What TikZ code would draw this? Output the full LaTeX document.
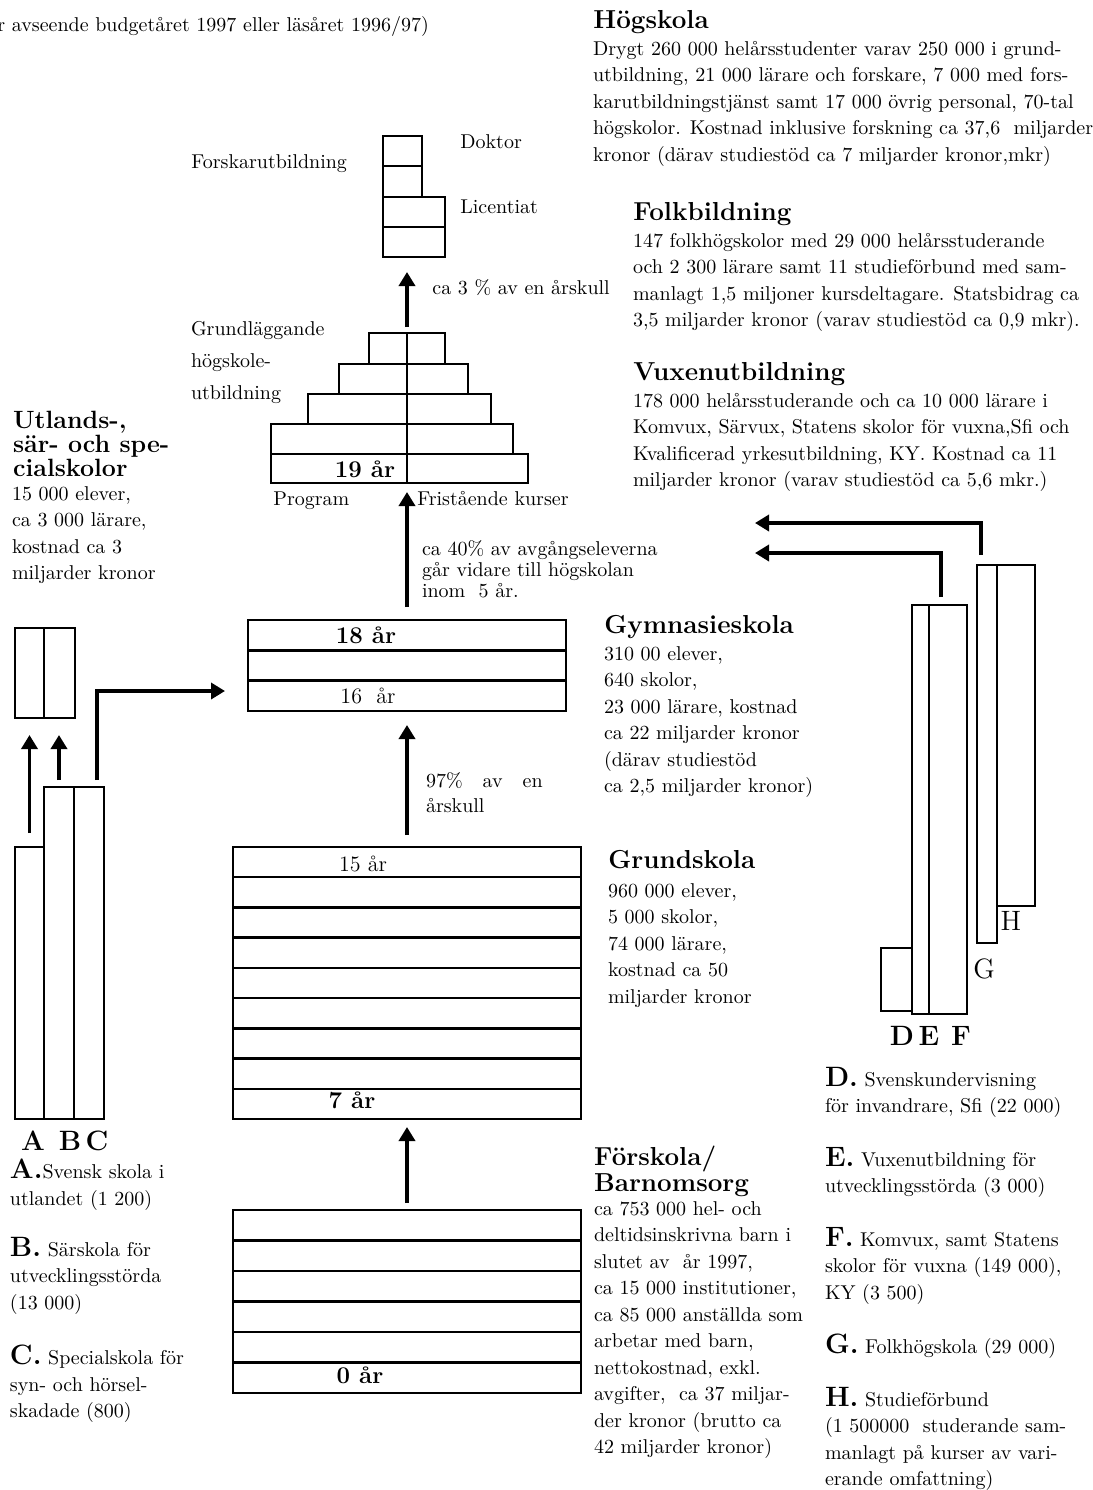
\documentclass[tikz,border=0pt]{standalone}
\usepackage{fontspec}
\usetikzlibrary{arrows.meta,calc,fit}
\newcommand\fstrut{\rule{0pt}{9pt}}
\newcommand\hstrut{\rule{0pt}{10pt}}
\newcommand\tb[4]{\node[blk] (#1) at (#2,{#3-18}) {\fstrut#4};}
\newcommand\lt[1]{{\fontsize{14}{13.25}\selectfont\bfseries #1}}
\begin{document}
\begin{tikzpicture}[x=0.5pt,y=-0.5pt,
  bx/.style={draw, line width=1.2pt, inner sep=0pt, outer sep=0pt},
  rowline/.style={line width=1.2pt},
  arr/.style={line width=1.8pt, -{Triangle[length=7pt,width=8pt]}},
  blk/.style={anchor=north west, inner sep=0pt, outer sep=0pt, align=left, font=\fontsize{10}{13.25}\selectfont},
  hd/.style={anchor=base west, inner sep=0pt, font=\fontsize{13}{13}\selectfont\bfseries},
  lbl/.style={anchor=base west, inner sep=0pt, font=\fontsize{10}{12}\selectfont},
  age/.style={anchor=base, inner sep=0pt, font=\fontsize{11}{12}\selectfont},
  agebf/.style={anchor=base, inner sep=0pt, font=\fontsize{12}{12}\selectfont\bfseries},
  big/.style={anchor=base, inner sep=0pt, font=\fontsize{14}{14}\selectfont\bfseries},
  bigr/.style={anchor=base, inner sep=0pt, font=\fontsize{14}{14}\selectfont}]
\useasboundingbox (0,0) rectangle (1093,1490);

% top note
\node[lbl] (note) at (-3,31) {r avseende budgetåret 1997 eller läsåret 1996/97)};

% ---------- Forskarutbildning ----------
\node[bx, fit={(383,136) (422,166)}] (fa) {};
\node[bx, fit={(383,166) (422,197)}] (fb) {};
\node[bx, fit={(383,197) (445,227)}] (fc) {};
\node[bx, fit={(383,227) (445,257)}] (fd) {};
\node[lbl] (forsk) at (191,168) {Forskarutbildning};
\node[lbl] (doktor) at (460,148) {Doktor};
\node[lbl] (lic) at (460,213) {Licentiat};

% ---------- Pyramid ----------
\node[bx, fit={(369,333) (445,364)}] (p1) {};
\node[bx, fit={(339,364) (468,394)}] (p2) {};
\node[bx, fit={(308,394) (491,424)}] (p3) {};
\node[bx, fit={(271,424) (513,454)}] (p4) {};
\node[bx, fit={(271,454) (528,483)}] (p5) {};
\draw[rowline] (p1.north) -- (p1.north |- p5.south);
\node[agebf] (y19) at (365,477) {19 år};
\node[lbl] (prog) at (273,505) {Program};
\node[lbl] (frist) at (417,505) {Fristående kurser};
\node[blk, font=\fontsize{10}{16}\selectfont] (grl) at (191,317) {\fstrut Grundläggande\\högskole-\\utbildning};
\draw[arr, shorten <=3pt, shorten >=7.5pt] (p1.north) -- (p1.north |- fd.south);
\node[lbl] (tre) at (432,294) {ca 3 \% av en årskull};

% ---------- Gymnasieskola ----------
\node[bx, fit={(248,620) (566,711)}] (gym) {};
\foreach \i in {1,2}
  \draw[rowline] ($(gym.north west)!\i/3!(gym.south west)$) -- ($(gym.north east)!\i/3!(gym.south east)$);
\node[agebf] (y18) at (366,643) {18 år};
\node[age] (y16) at (368,703) {16\ \ år};
\draw[arr, shorten <=6.5pt, shorten >=4.5pt] (gym.north) -- (gym.north |- p5.south);
\node[blk, font=\fontsize{10}{10.5}\selectfont] (fyrtio) at (422,537) {\fstrut ca 40\% av avgångseleverna\\går vidare till högskolan\\inom\ \ 5 år.};
\node[hd] (gymh) at (604,633) {Gymnasieskola};
\tb{gymt}{604}{660}{310 00 elever,\\640 skolor,\\23 000 lärare, kostnad\\ca 22 miljarder kronor\\(därav studiestöd\\ca 2,5 miljarder kronor)}

% ---------- Grundskola ----------
\node[bx, fit={(233,847) (581,1119)}] (grund) {};
\foreach \i in {1,...,8}
  \draw[rowline] ($(grund.north west)!\i/9!(grund.south west)$) -- ($(grund.north east)!\i/9!(grund.south east)$);
\node[age] (y15) at (363,871) {15 år};
\node[agebf] (y7) at (352,1108) {7 år};
\draw[arr, shorten <=6pt, shorten >=7pt] (grund.north) -- (gym.south);
\node[blk, font=\fontsize{10}{12.5}\selectfont] (nittiosju) at (426,769) {\fstrut 97\%\ \ \ av\ \ \ en\\årskull};
\node[hd] (grundh) at (608,868) {Grundskola};
\tb{grundt}{608}{897}{960 000 elever,\\5 000 skolor,\\74 000 lärare,\\kostnad ca 50\\miljarder kronor}

% ---------- Förskola ----------
\node[bx, fit={(233,1210) (581,1393)}] (fors) {};
\foreach \i in {1,...,5}
  \draw[rowline] ($(fors.north west)!\i/6!(fors.south west)$) -- ($(fors.north east)!\i/6!(fors.south east)$);
\node[agebf] (y0) at (360,1383) {0 år};
\draw[arr, shorten <=3.5pt, shorten >=4pt] (fors.north) -- (grund.south);
\node[blk, font=\fontsize{13}{11.5}\selectfont\bfseries] (forsh) at (594,1145) {\hstrut Förskola/\\Barnomsorg};
\tb{forst}{594}{1215}{ca 753 000 hel- och\\deltidsinskrivna barn i\\slutet av\ \ år 1997,\\ca 15 000 institutioner,\\ca 85 000 anställda som\\arbetar med barn,\\nettokostnad, exkl.\\avgifter,\ \ ca 37 miljar-\\der kronor (brutto ca\\42 miljarder kronor)}

% ---------- Högskola / Folkbildning / Vuxenutbildning ----------
\node[hd] (hogh) at (593,28) {Högskola};
\tb{hogt}{593}{55}{Drygt 260 000 helårsstudenter varav 250 000 i grund-\\utbildning, 21 000 lärare och forskare, 7 000 med fors-\\karutbildningstjänst samt 17 000 övrig personal, 70-tal\\högskolor. Kostnad inklusive forskning ca 37,6\ \ miljarder\\kronor (därav studiestöd ca 7 miljarder kronor,mkr)}
\node[hd] (folkh) at (633,220) {Folkbildning};
\tb{folkt}{633}{247}{147 folkhögskolor med 29 000 helårsstuderande\\och 2 300 lärare samt 11 studieförbund med sam-\\manlagt 1,5 miljoner kursdeltagare. Statsbidrag ca\\3,5 miljarder kronor (varav studiestöd ca 0,9 mkr).}
\node[hd] (vuxh) at (633,380) {Vuxenutbildning};
\tb{vuxt}{633}{407}{178 000 helårsstuderande och ca 10 000 lärare i\\Komvux, Särvux, Statens skolor för vuxna,Sfi och\\Kvalificerad yrkesutbildning, KY. Kostnad ca 11\\miljarder kronor (varav studiestöd ca 5,6 mkr.)}

% ---------- Left: Utlands-, sär- och specialskolor ----------
\node[blk, font=\fontsize{12.5}{10.5}\selectfont\bfseries] (utlh) at (13,408) {\hstrut Utlands-,\\sär- och spe-\\cialskolor};
\tb{utlt}{12}{500}{15 000 elever,\\ca 3 000 lärare,\\kostnad ca 3\\miljarder kronor}
\node[bx, fit={(15,628) (44,718)}] (sa) {};
\node[bx, fit={(44,628) (75,718)}] (sb) {};
\node[bx, fit={(15,847) (44,1119)}] (A) {};
\node[bx, fit={(44,787) (74,1119)}] (B) {};
\node[bx, fit={(74,787) (104,1119)}] (C) {};
\draw[arr, shorten <=7pt, shorten >=8.5pt] (A.north) -- (A.north |- sa.south);
\draw[arr, shorten <=3.5pt, shorten >=8.5pt] (B.north) -- (B.north |- sb.south);
\coordinate (cend) at (225,691);
\draw[arr] ([xshift=4pt,yshift=3.5pt]C.north) |- (cend);
\node[big] (la) at (33,1150) {A};
\node[big] (lb) at (70,1150) {B};
\node[big] (lc) at (97,1150) {C};
\tb{legA}{10}{1177}{\lt{A.}Svensk skola i\\utlandet (1 200)}
\tb{legB}{10}{1255}{\lt{B.} Särskola för\\utvecklingsstörda\\(13 000)}
\tb{legC}{10}{1363}{\lt{C.} Specialskola för\\syn- och hörsel-\\skadade (800)}

% ---------- Right: adult education bars ----------
\node[bx, fit={(881,948) (912,1011)}] (D) {};
\node[bx, fit={(912,605) (929,1014)}] (E) {};
\node[bx, fit={(929,605) (967,1014)}] (F) {};
\node[bx, fit={(977,565) (997,943)}] (G) {};
\node[bx, fit={(997,565) (1035,906)}] (H) {};
\coordinate (vu) at (755,523);
\coordinate (vl) at (755,553);
\draw[arr] ([xshift=-3pt,yshift=5pt]G.north) |- (vu);
\draw[arr] ([xshift=-3.5pt,yshift=4pt]F.north) |- (vl);
\node[big] (ld) at (902,1045) {D};
\node[big] (le) at (929,1045) {E};
\node[big] (lf) at (961,1045) {F};
\node[bigr] (lg) at (984,978) {G};
\node[bigr] (lh) at (1011,930) {H};
\tb{legD}{825}{1085}{\lt{D.} Svenskundervisning\\för invandrare, Sfi (22 000)}
\tb{legE}{825}{1165}{\lt{E.} Vuxenutbildning för\\utvecklingsstörda (3 000)}
\tb{legF}{825}{1245}{\lt{F.} Komvux, samt Statens\\skolor för vuxna (149 000),\\KY (3 500)}
\tb{legG}{825}{1352}{\lt{G.} Folkhögskola (29 000)}
\tb{legH}{825}{1405}{\lt{H.} Studieförbund\\(1 500000\ \ studerande sam-\\manlagt på kurser av vari-\\erande omfattning)}
\end{tikzpicture}
\end{document}
